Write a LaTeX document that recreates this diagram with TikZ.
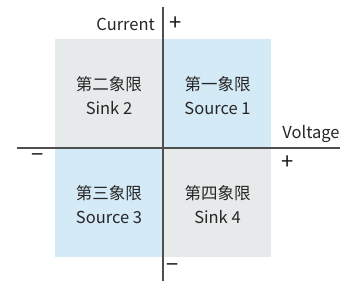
\documentclass[tikz,border=0pt]{standalone}
\usepackage{fontspec}
\setmainfont{Noto Sans CJK SC}
\usepackage{xcolor}
\usetikzlibrary{positioning}
\definecolor{qgray}{HTML}{E6EAEA}
\definecolor{qblue}{HTML}{D5EAF7}
\definecolor{axisgray}{HTML}{4F4F4F}
\tikzset{
  quad/.style={draw=none,minimum width=108pt,minimum height=109pt,inner sep=0pt},
  axis/.style={line width=1.7pt,axisgray},
  lbl/.style={font=\fontsize{16.5}{24}\selectfont,text=black!85,align=center,inner sep=0pt},
  sgn/.style={font=\fontsize{22}{22}\selectfont,text=black!90,inner sep=0pt}
}
\begin{document}
\begin{tikzpicture}[x=1pt,y=1pt]
\useasboundingbox (-163,-138) rectangle (195,148);
% quadrants
\node[quad,fill=qgray,anchor=south east] (q2) at (0,0) {};
\node[quad,fill=qblue,anchor=south west] (q1) at (0,0) {};
\node[quad,fill=qblue,anchor=north east] (q3) at (0,0) {};
\node[quad,fill=qgray,anchor=north west] (q4) at (0,0) {};
\node[lbl] (t1) at (54.5,52) {第一象限\\Source 1};
\node[lbl] (t2) at (-54,52) {第二象限\\Sink 2};
\node[lbl] (t3) at (-54,-56.5) {第三象限\\Source 3};
\node[lbl] (t4) at (54.5,-56.5) {第四象限\\Sink 4};
% axes
\coordinate (ytop) at (0,141);
\coordinate (ybot) at (0,-133);
\coordinate (xl) at (-146,0);
\coordinate (xr) at (177,0);
\draw[axis] (ybot) -- (ytop);
\draw[axis] (xl) -- (xr);
\node[lbl,anchor=east] (cur) at (-8,124) {Current};
\node[lbl] (vol) at (148,14) {Voltage};
\node[sgn] (cp) at (13,124) {+};
\node[sgn] (cm) at (10,-120) {−};
\node[sgn] (vp) at (125,-15) {+};
\node[sgn] (vm) at (-125,-10) {−};
\end{tikzpicture}
\end{document}
